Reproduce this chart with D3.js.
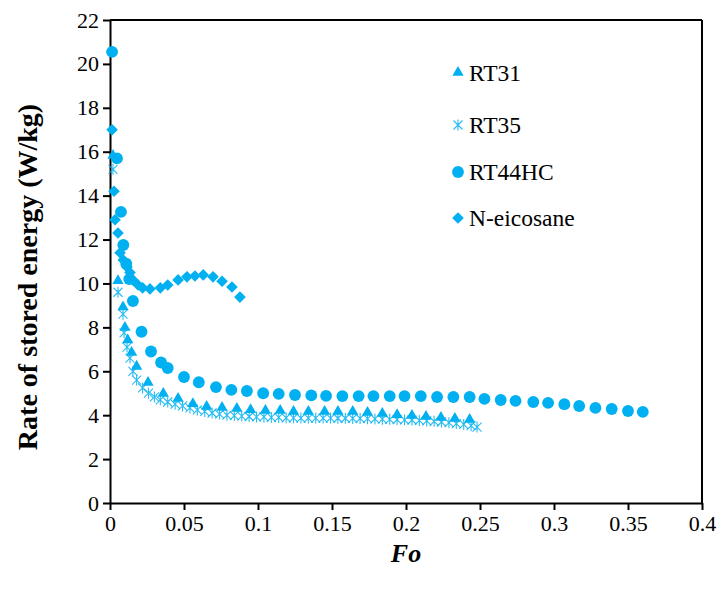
<!DOCTYPE html>
<html>
<head>
<meta charset="utf-8">
<script src="https://cdn.jsdelivr.net/npm/d3@7"></script>
<style>
  body { margin: 0; background: #fff; }
</style>
</head>
<body>
<div id="chart"></div>
<script>
// Fo / rate of stored energy (W/kg)
const rt31Fo = [0.002, 0.0054, 0.0088, 0.0101, 0.012, 0.0146, 0.018, 0.0257, 0.036, 0.046, 0.056, 0.0653, 0.0757, 0.0857, 0.095,
  0.105, 0.115, 0.124, 0.134, 0.145, 0.154, 0.164, 0.174, 0.184, 0.194, 0.204, 0.2135, 0.2236, 0.233, 0.243];
const rt31Val = [15.8, 10.1, 8.9, 7.97, 7.4, 6.83, 6.2, 5.47, 4.97, 4.74, 4.5, 4.37, 4.33, 4.28, 4.22,
  4.19, 4.19, 4.15, 4.15, 4.15, 4.15, 4.15, 4.1, 4.05, 4.0, 3.96, 3.92, 3.87, 3.83, 3.78];

const rt35Fo = [0.002, 0.0054, 0.0088, 0.0095, 0.0115, 0.0135, 0.0155, 0.018, 0.022, 0.026, 0.030, 0.034, 0.039, 0.044, 0.049,
  0.054, 0.059, 0.064, 0.069, 0.074, 0.079, 0.084, 0.089, 0.094, 0.099, 0.104, 0.109, 0.114, 0.119, 0.124, 0.129, 0.134,
  0.139, 0.144, 0.149, 0.154, 0.159, 0.164, 0.169, 0.174, 0.179, 0.184, 0.189, 0.194, 0.199, 0.204, 0.209, 0.214, 0.219,
  0.224, 0.229, 0.234, 0.239, 0.244, 0.248];
const rt35Val = [15.2, 9.6, 8.6, 7.75, 7.1, 6.6, 6.0, 5.6, 5.24, 5.0, 4.83, 4.7, 4.6, 4.5, 4.42,
  4.33, 4.24, 4.17, 4.1, 4.05, 4.0, 3.98, 3.96, 3.94, 3.92, 3.92, 3.9, 3.9, 3.88, 3.88, 3.87, 3.87,
  3.87, 3.87, 3.87, 3.86, 3.86, 3.85, 3.85, 3.84, 3.83, 3.82, 3.81, 3.8, 3.79, 3.78, 3.76, 3.74, 3.72,
  3.69, 3.66, 3.62, 3.58, 3.52, 3.46];

const rt44Fo = [0.0014, 0.0047, 0.0074, 0.009, 0.011, 0.013, 0.0155, 0.0213, 0.0277, 0.0345, 0.039, 0.050, 0.060, 0.0716, 0.082,
  0.0925, 0.1035, 0.114, 0.125, 0.136, 0.146, 0.157, 0.168, 0.178, 0.189, 0.199, 0.210, 0.221, 0.232, 0.243, 0.253,
  0.264, 0.274, 0.286, 0.296, 0.307, 0.317, 0.328, 0.339, 0.35, 0.36];
const rt44Val = [20.55, 15.7, 13.26, 11.75, 10.9, 10.2, 9.2, 7.8, 6.9, 6.4, 6.15, 5.74, 5.5, 5.28, 5.15,
  5.1, 5.0, 4.97, 4.92, 4.9, 4.88, 4.87, 4.87, 4.87, 4.87, 4.87, 4.87, 4.83, 4.83, 4.83, 4.74,
  4.69, 4.65, 4.6, 4.56, 4.5, 4.42, 4.33, 4.28, 4.19, 4.15];

const eicoFo = [0.0014, 0.0027, 0.0034, 0.0054, 0.0068, 0.009, 0.0115, 0.0135, 0.0155, 0.019, 0.022, 0.027, 0.034, 0.039,
  0.046, 0.052, 0.0574, 0.063, 0.0696, 0.0757, 0.0824, 0.0878];
const eicoVal = [17.0, 14.2, 12.9, 12.3, 11.4, 11.07, 10.75, 10.5, 10.16, 9.93, 9.8, 9.75, 9.8, 9.93,
  10.16, 10.3, 10.34, 10.39, 10.3, 10.1, 9.84, 9.38];

const seriesNames = ["RT31", "RT35", "RT44HC", "N-eicosane"];
const xTicks = [0, 0.05, 0.1, 0.15, 0.2, 0.25, 0.3, 0.35, 0.4];
const yTicks = [0, 2, 4, 6, 8, 10, 12, 14, 16, 18, 20, 22];

const blue = "#00b0f0";
const serif = "Liberation Serif";
const W = 722, H = 590;
const margin = { left: 110, right: 20, top: 20, bottom: 87 };

const svg = d3.select("#chart").append("svg").attr("width", W).attr("height", H);

const x = d3.scaleLinear().domain([0, 0.4]).range([margin.left, W - margin.right]);
const y = d3.scaleLinear().domain([0, 22]).range([H - margin.bottom, margin.top]);

// axes
const xAxis = svg.append("g").attr("transform", `translate(0,${y(0)})`)
  .call(d3.axisBottom(x).tickValues(xTicks).tickSize(7).tickSizeOuter(0).tickPadding(5).tickFormat(d => String(d)));
const yAxis = svg.append("g").attr("transform", `translate(${x(0)},0)`)
  .call(d3.axisLeft(y).tickValues(yTicks).tickSize(7).tickSizeOuter(0).tickPadding(4));
[xAxis, yAxis].forEach(g => {
  g.attr("font-family", serif).attr("font-size", 22);
  g.selectAll("path, line").attr("stroke", "#000").attr("stroke-width", 2);
  g.selectAll("text").style("font-family", serif).style("font-size", "22px").attr("fill", "#000");
});
// frame top / right
svg.append("line").attr("x1", x(0)).attr("x2", x(0.4)).attr("y1", y(22)).attr("y2", y(22)).attr("stroke", "#000").attr("stroke-width", 2);
svg.append("line").attr("x1", x(0.4)).attr("x2", x(0.4)).attr("y1", y(22)).attr("y2", y(0)).attr("stroke", "#000").attr("stroke-width", 2);

// titles
svg.append("text").attr("x", x(0.2)).attr("y", 562).attr("text-anchor", "middle")
  .style("font-family", serif).style("font-size", "26px").style("font-weight", "bold").style("font-style", "italic").text("Fo");
svg.append("text").attr("transform", `translate(27,277) rotate(-90)`).attr("text-anchor", "middle")
  .attr("dy", "0.35em").style("font-family", serif).style("font-size", "28px").style("font-weight", "bold")
  .text("Rate of stored energy (W/kg)");

// markers
const tri = d3.symbol().type(d3.symbolTriangle).size(55)();
const circ = d3.symbol().type(d3.symbolCircle).size(110)();
const diam = d3.symbol().type(d3.symbolSquare).size(68)();
const star = "M0,-5.5V5.5M-4.5,-4.5L4.5,4.5M-4.5,4.5L4.5,-4.5";

function drawMarker(g, type) {
  if (type === 0) g.append("path").attr("d", tri).attr("fill", blue).attr("transform", "translate(0,-0.5)");
  else if (type === 1) g.append("path").attr("d", star).attr("fill", "none").attr("stroke", blue).attr("stroke-width", 1.1).attr("opacity", 0.85);
  else if (type === 2) g.append("path").attr("d", circ).attr("fill", blue);
  else g.append("path").attr("d", diam).attr("fill", blue).attr("transform", "rotate(45)");
}

const allSeries = [
  d3.zip(rt31Fo, rt31Val),
  d3.zip(rt35Fo, rt35Val),
  d3.zip(rt44Fo, rt44Val),
  d3.zip(eicoFo, eicoVal)
];

allSeries.forEach((data, i) => {
  const g = svg.append("g");
  data.forEach(d => {
    const m = g.append("g").attr("transform", `translate(${x(d[0])},${y(d[1])})`);
    drawMarker(m, i);
  });
});

// legend
const legendY = [73, 125, 172, 218];
seriesNames.forEach((name, i) => {
  const m = svg.append("g").attr("transform", `translate(458,${legendY[i]})`);
  drawMarker(m, i);
  svg.append("text").attr("x", 469).attr("y", legendY[i]).attr("dy", "0.35em")
    .style("font-family", serif).style("font-size", "23.5px").text(name);
});
</script>
</body>
</html>
